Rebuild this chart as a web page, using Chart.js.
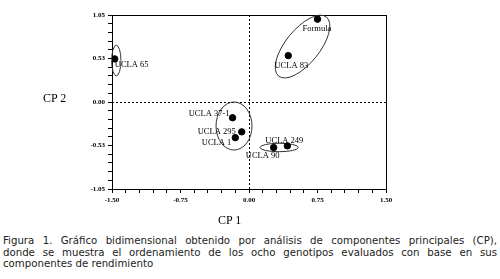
<!DOCTYPE html>
<html>
<head>
<meta charset="utf-8">
<script src="https://cdn.jsdelivr.net/npm/chart.js@4/dist/chart.umd.min.js"></script>
<style>
  html, body { margin: 0; padding: 0; background: #fff; }
  #wrap { position: relative; width: 500px; height: 279px; overflow: hidden; }
  #cpChart { position: absolute; left: 0; top: 0; }
  .axTitle { position: absolute; font-family: "Liberation Serif", serif; font-size: 12px; color: #000; white-space: nowrap; }
  #caption { position: absolute; left: 3px; top: 235px; width: 494px; font-family: "DejaVu Sans", Verdana, sans-serif; font-size: 10.2px; line-height: 11.5px; color: #222; }
  #caption div { text-align: justify; text-align-last: justify; white-space: nowrap; }
  #caption div.last { text-align-last: left; }
</style>
</head>
<body>
<div id="wrap">
  <canvas id="cpChart" width="500" height="230"></canvas>
  <div class="axTitle" style="left:43px; top:91px;">CP 2</div>
  <div class="axTitle" style="left:218px; top:213px;">CP 1</div>
  <div id="caption">
    <div>Figura 1. Gráfico bidimensional obtenido por análisis de componentes principales (CP),</div>
    <div>donde se muestra el ordenamiento de los ocho genotipos evaluados con base en sus</div>
    <div class="last">componentes de rendimiento</div>
  </div>
</div>
<script>
// ========== 데이터 ==========
const genotypes = ['Formula', 'UCLA 83', 'UCLA 65', 'UCLA 37-1', 'UCLA 295', 'UCLA 1', 'UCLA 249', 'UCLA 90'];
const cp1 = [0.75, 0.43, -1.47, -0.18, -0.08, -0.15, 0.42, 0.27];
const cp2 = [1.00, 0.56, 0.52, -0.19, -0.36, -0.43, -0.53, -0.55];

const xTickLabels = ['-1.50', '-0.75', '0.00', '0.75', '1.50'];
const yTickLabels = ['-1.05', '-0.53', '0.00', '0.53', '1.05'];

// group ellipses, in axis units (rx/ry in CP units, angle in degrees)
const groupCx = [-1.453, 0.586, -0.164, 0.33];
const groupCy = [0.50, 0.669, -0.29, -0.549];
const groupRx = [0.051, 0.416, 0.197, 0.21];
const groupRy = [0.185, 0.186, 0.29, 0.051];
const groupAngle = [0, -51, 0, 0];

// label offsets (px) and alignment
const labelStyle = [
    { dx: -15, dy: 9.5, align: 'left' },
    { dx: 3, dy: 10, align: 'center' },
    { dx: 0, dy: 6, align: 'left' },
    { dx: -3, dy: -4, align: 'right' },
    { dx: -6, dy: -0.5, align: 'right' },
    { dx: -4, dy: 5, align: 'right' },
    { dx: -3, dy: -5.5, align: 'center' },
    { dx: -11, dy: 8, align: 'center' }
];

/**
 * 틀, 점선, 타원, 라벨
 */
const decorPlugin = {
    id: 'decor',
    beforeDatasetsDraw(chart) {
        const { ctx, chartArea: a, scales: { x, y } } = chart;
        ctx.save();
        // dashed zero lines
        ctx.strokeStyle = '#000';
        ctx.lineWidth = 1;
        ctx.setLineDash([2, 2]);
        const x0 = Math.round(x.getPixelForValue(0)) + 0.5;
        const y0 = Math.round(y.getPixelForValue(0)) + 0.5;
        ctx.beginPath();
        ctx.moveTo(x0, a.top); ctx.lineTo(x0, a.bottom);
        ctx.moveTo(a.left, y0); ctx.lineTo(a.right, y0);
        ctx.stroke();
        ctx.setLineDash([]);
        // frame
        ctx.strokeRect(Math.round(a.left) + 0.5, Math.round(a.top) + 0.5,
            Math.round(a.right - a.left), Math.round(a.bottom - a.top));
        // ellipses
        const pxX = x.getPixelForValue(1) - x.getPixelForValue(0);
        const pxY = y.getPixelForValue(0) - y.getPixelForValue(1);
        ctx.strokeStyle = '#333';
        groupCx.forEach((cx, i) => {
            const rot = groupAngle[i] * Math.PI / 180;
            const rx = groupRx[i] * pxX;
            const ry = groupAngle[i] === 0 ? groupRy[i] * pxY : groupRy[i] * pxX;
            ctx.beginPath();
            ctx.ellipse(x.getPixelForValue(cx), y.getPixelForValue(groupCy[i]), rx, ry, rot, 0, Math.PI * 2);
            ctx.stroke();
        });
        ctx.restore();
    },
    afterDatasetsDraw(chart) {
        const { ctx, scales: { x, y } } = chart;
        ctx.save();
        ctx.fillStyle = '#000';
        ctx.font = '8.5px "Liberation Serif", serif';
        ctx.textBaseline = 'middle';
        genotypes.forEach((name, i) => {
            const s = labelStyle[i];
            ctx.textAlign = s.align;
            ctx.fillText(name, x.getPixelForValue(cp1[i]) + s.dx, y.getPixelForValue(cp2[i]) + s.dy);
        });
        ctx.restore();
    }
};

const tickFont = { family: '"Liberation Serif", serif', size: 7, weight: 'bold' };

new Chart(document.getElementById('cpChart'), {
    type: 'scatter',
    data: {
        datasets: [{
            data: cp1.map((v, i) => ({ x: v, y: cp2[i] })),
            backgroundColor: '#000',
            borderColor: '#000',
            pointRadius: 3.2,
            pointHoverRadius: 3.2
        }]
    },
    options: {
        responsive: false,
        animation: false,
        layout: { padding: { top: 15, right: 114, left: 0, bottom: 0 } },
        plugins: { legend: { display: false }, tooltip: { enabled: false } },
        scales: {
            x: {
                type: 'linear', min: -1.5, max: 1.5,
                afterBuildTicks: s => { s.ticks = Array.from({ length: 21 }, (_, i) => ({ value: -1.5 + i * 0.15 })); },
                afterFit: s => { s.height = 41; },
                grid: { drawOnChartArea: false, tickLength: 4, color: '#000' },
                border: { color: '#000' },
                ticks: {
                    autoSkip: false, maxRotation: 0, padding: 3, color: '#000', font: tickFont,
                    callback: (v, i) => (i % 5 === 0 ? xTickLabels[i / 5] : '')
                }
            },
            y: {
                type: 'linear', min: -1.05, max: 1.05,
                afterBuildTicks: s => { s.ticks = Array.from({ length: 21 }, (_, i) => ({ value: -1.05 + i * 0.105 })); },
                afterFit: s => { s.width = 112; },
                grid: { drawOnChartArea: false, tickLength: 4, color: '#000' },
                border: { color: '#000' },
                ticks: {
                    autoSkip: false, padding: 3, color: '#000', font: tickFont,
                    callback: (v, i) => (i % 5 === 0 ? yTickLabels[i / 5] : '')
                }
            }
        }
    },
    plugins: [decorPlugin]
});
</script>
</body>
</html>
